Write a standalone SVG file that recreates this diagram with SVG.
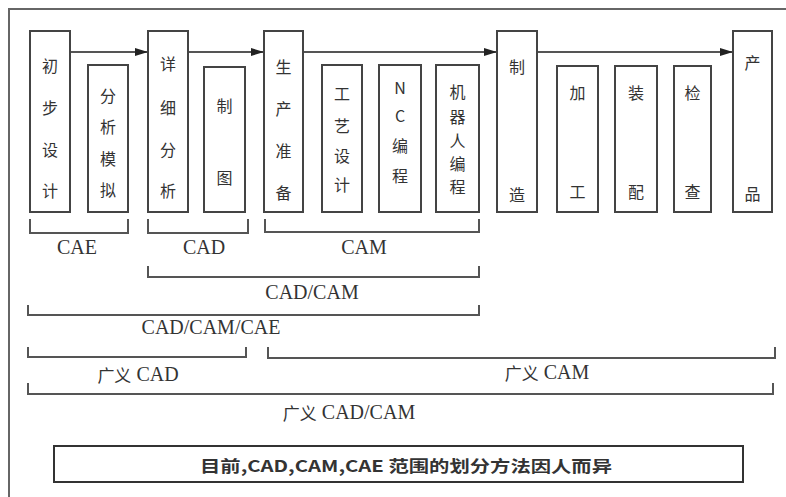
<svg xmlns="http://www.w3.org/2000/svg" width="786" height="497" viewBox="0 0 786 497">
<style>
.box{fill:#fff;stroke:#444;stroke-width:2}
.ln{fill:none;stroke:#555;stroke-width:2}
.br{fill:none;stroke:#555;stroke-width:2}
.cj{font-family:"Noto Sans CJK SC","Noto Sans CJK TC",sans-serif;font-size:16px;fill:#333;text-anchor:middle;dominant-baseline:central}
.lt{font-family:"Liberation Serif","Noto Sans CJK SC",serif;font-size:20px;fill:#333;text-anchor:middle;dominant-baseline:central}
.ct{font-family:"Noto Sans CJK SC","Liberation Serif",serif}
</style>
<defs>
<marker id="ah" markerWidth="14" markerHeight="10" refX="13" refY="5" orient="auto" markerUnits="userSpaceOnUse">
<path d="M0,1 L13,5 L0,9 Z" fill="#222"/>
</marker>
</defs>
<rect width="786" height="497" fill="#fff"/>
<g id="frame">
<path d="M9,497 V9 H786" fill="none" stroke="#666" stroke-width="2"/>
</g>
<g id="connectors">
<line class="ln" x1="70" y1="52" x2="148" y2="52" marker-end="url(#ah)"/>
<line class="ln" x1="188" y1="52" x2="264" y2="52" marker-end="url(#ah)"/>
<line class="ln" x1="303" y1="52" x2="497" y2="52" marker-end="url(#ah)"/>
<line class="ln" x1="537" y1="52" x2="733" y2="52" marker-end="url(#ah)"/>
</g>
<g id="n1"><rect class="box" x="30" y="31" width="40" height="181"/>
<text class="cj" x="50" y="65">初</text><text class="cj" x="50" y="107">步</text><text class="cj" x="50" y="149">设</text><text class="cj" x="50" y="190">计</text></g>
<g id="n2"><rect class="box" x="88" y="65" width="40" height="147"/>
<text class="cj" x="108" y="95">分</text><text class="cj" x="108" y="126">析</text><text class="cj" x="108" y="158">模</text><text class="cj" x="108" y="189">拟</text></g>
<g id="n3"><rect class="box" x="148" y="31" width="40" height="181"/>
<text class="cj" x="168" y="63">详</text><text class="cj" x="168" y="107">细</text><text class="cj" x="168" y="149">分</text><text class="cj" x="168" y="190">析</text></g>
<g id="n4"><rect class="box" x="204" y="67" width="41" height="145"/>
<text class="cj" x="224.5" y="105">制</text><text class="cj" x="224.5" y="177">图</text></g>
<g id="n5"><rect class="box" x="264" y="31" width="39" height="181"/>
<text class="cj" x="283.5" y="66">生</text><text class="cj" x="283.5" y="108">产</text><text class="cj" x="283.5" y="150">准</text><text class="cj" x="283.5" y="192">备</text></g>
<g id="n6"><rect class="box" x="322" y="65" width="40" height="147"/>
<text class="cj" x="342" y="93">工</text><text class="cj" x="342" y="125">艺</text><text class="cj" x="342" y="155">设</text><text class="cj" x="342" y="184">计</text></g>
<g id="n7"><rect class="box" x="379" y="65" width="42" height="147"/>
<text class="cj" x="400" y="87">N</text><text class="cj" x="400" y="115">C</text><text class="cj" x="400" y="145">编</text><text class="cj" x="400" y="175">程</text></g>
<g id="n8"><rect class="box" x="436" y="65" width="43" height="147"/>
<text class="cj" x="457.5" y="91">机</text><text class="cj" x="457.5" y="116">器</text><text class="cj" x="457.5" y="140">人</text><text class="cj" x="457.5" y="163">编</text><text class="cj" x="457.5" y="186">程</text></g>
<g id="n9"><rect class="box" x="497" y="31" width="40" height="181"/>
<text class="cj" x="517" y="66">制</text><text class="cj" x="517" y="194">造</text></g>
<g id="n10"><rect class="box" x="557" y="66" width="41" height="146"/>
<text class="cj" x="577.5" y="92">加</text><text class="cj" x="577.5" y="191">工</text></g>
<g id="n11"><rect class="box" x="615" y="66" width="42" height="146"/>
<text class="cj" x="636" y="92">装</text><text class="cj" x="636" y="191">配</text></g>
<g id="n12"><rect class="box" x="674" y="66" width="37" height="146"/>
<text class="cj" x="692.5" y="92">检</text><text class="cj" x="692.5" y="191">查</text></g>
<g id="n13"><rect class="box" x="733" y="31" width="39" height="181"/>
<text class="cj" x="752.5" y="62">产</text><text class="cj" x="752.5" y="193">品</text></g>
<g id="brackets">
<path class="br" d="M30,219 V233 H128 V219"/>
<path class="br" d="M148,219 V233 H248 V219"/>
<path class="br" d="M265,219 V232 H479 V219"/>
<path class="br" d="M148,266 V277 H479 V266"/>
<path class="br" d="M28,305 V315 H479 V305"/>
<path class="br" d="M28,347 V357 H246 V347"/>
<path class="br" d="M268,347 V358 H775 V347"/>
<path class="br" d="M28,383 V394 H773 V383"/>
</g>
<g id="labels">
<text class="lt" x="77" y="247">CAE</text>
<text class="lt" x="204" y="247">CAD</text>
<text class="lt" x="364" y="247">CAM</text>
<text class="lt" x="312" y="292">CAD/CAM</text>
<text class="lt" x="211" y="327">CAD/CAM/CAE</text>
<text class="lt" x="138" y="374"><tspan class="ct" font-size="17">广义</tspan> CAD</text>
<text class="lt" x="547" y="372"><tspan class="ct" font-size="17">广义</tspan> CAM</text>
<text class="lt" x="349" y="412"><tspan class="ct" font-size="17">广义</tspan> CAD/CAM</text>
</g>
<g id="note">
<rect x="54" y="446" width="689" height="36" fill="#fff" stroke="#333" stroke-width="2"/>
<text x="406" y="465" font-family="Noto Sans CJK SC, sans-serif" font-size="16" font-weight="bold" fill="#333" text-anchor="middle" dominant-baseline="central" textLength="412" lengthAdjust="spacingAndGlyphs">目前,CAD,CAM,CAE 范围的划分方法因人而异</text>
</g>
</svg>
